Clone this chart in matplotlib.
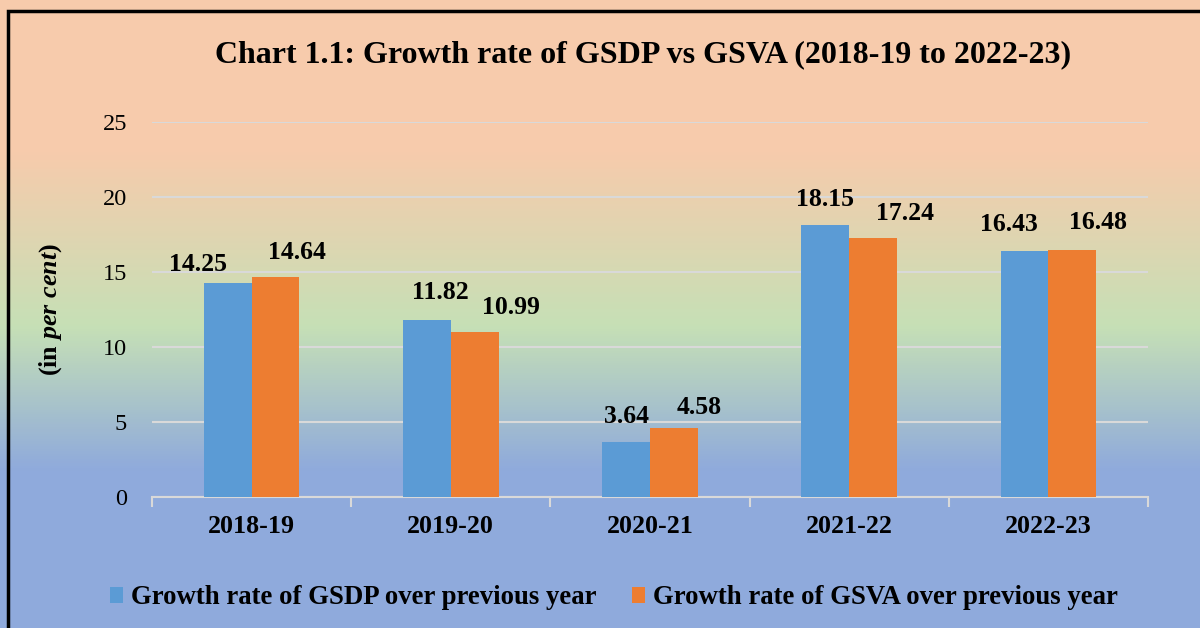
import numpy as np
import matplotlib
matplotlib.use('Agg')
import matplotlib.pyplot as plt
from matplotlib.colors import LinearSegmentedColormap
from matplotlib.patches import Rectangle

years = ['2018-19', '2019-20', '2020-21', '2021-22', '2022-23']
gsdp = [14.25, 11.82, 3.64, 18.15, 16.43]
gsva = [14.64, 10.99, 4.58, 17.24, 16.48]
gsdp_name = 'Growth rate of GSDP over previous year'
gsva_name = 'Growth rate of GSVA over previous year'

# label nudges (pixels) as placed by hand in the original
gsdp_lbl_dx = [-30, 13, 0, 0, -16]
gsdp_lbl_dy = [19, 27, 26, 25, 26]
gsva_lbl_dx = [21, 36, 25, 32, 26]
gsva_lbl_dy = [25, 25, 21, 25, 27]

plt.rcParams['font.family'] = 'Liberation Serif'
plt.rcParams['mathtext.fontset'] = 'custom'
plt.rcParams['mathtext.rm'] = 'Liberation Serif:bold'
plt.rcParams['mathtext.it'] = 'Liberation Serif:bold:italic'

fig = plt.figure(figsize=(12, 6.28), dpi=100)

# background gradient (peach -> green -> blue)
bg = fig.add_axes([0, 0, 1, 1], zorder=0)
cmap = LinearSegmentedColormap.from_list('bg', [
    (0.0, '#F7CBAC'), (0.24, '#F7CBAC'), (0.52, '#C6E0B6'),
    (0.75, '#8FAADC'), (1.0, '#8FAADC')])
grad = np.linspace(0, 1, 628).reshape(-1, 1)
bg.imshow(grad, aspect='auto', cmap=cmap, extent=[0, 1, 0, 1], origin='upper')
bg.axis('off')
fig.patches.append(Rectangle((8/1200, -0.1), 1.2, (628-11)/628 + 0.1,
                             transform=fig.transFigure, fill=False,
                             edgecolor='black', linewidth=2.5, zorder=5))

ax = fig.add_axes([152/1200, 1-497/628, 996/1200, 375/628], zorder=2)
ax.patch.set_alpha(0)
x = np.arange(len(years))
w = 0.24
b1 = ax.bar(x - w/2, gsdp, w, color='#5B9BD5', label=gsdp_name, zorder=3)
b2 = ax.bar(x + w/2, gsva, w, color='#ED7D31', label=gsva_name, zorder=3)
for bars, vals, dxs, dys in ((b1, gsdp, gsdp_lbl_dx, gsdp_lbl_dy),
                             (b2, gsva, gsva_lbl_dx, gsva_lbl_dy)):
    for r, v, dx, dy in zip(bars, vals, dxs, dys):
        ax.annotate(f'{v:.2f}', (r.get_x() + r.get_width()/2, v),
                    xytext=(dx, dy), textcoords='offset pixels',
                    ha='center', va='center', fontsize=18.5, fontweight='bold')

ax.set_xlim(-0.5, len(years) - 0.5)
ax.set_ylim(0, 25)
ax.set_yticks([0, 5, 10, 15, 20, 25])
ax.yaxis.grid(True, color='#D9D9D9', linewidth=1.5, zorder=0)
ax.set_axisbelow(True)
for s in ['top', 'right', 'left']:
    ax.spines[s].set_visible(False)
ax.spines['bottom'].set_color('#D9D9D9')
ax.spines['bottom'].set_linewidth(1.5)
ax.tick_params(axis='y', length=0, labelsize=17.5, pad=18)
ax.set_xticks(x)
ax.set_xticklabels(years, fontsize=18.7, fontweight='bold')
ax.tick_params(axis='x', length=0, pad=13)
ax.set_xticks(np.arange(-0.5, len(years)), minor=True)
ax.tick_params(axis='x', which='minor', length=7, width=1.5, color='#D9D9D9')

ax.set_ylabel(r'$\mathrm{(in\ }\mathit{per\ cent}\mathrm{)}$', fontsize=18.7, labelpad=28)

fig.text(643/1200, 1-55/628, 'Chart 1.1: Growth rate of GSDP vs GSVA (2018-19 to 2022-23)',
         ha='center', va='center', fontsize=23, fontweight='bold')

leg = fig.legend(handles=[b1, b2], loc='center', bbox_to_anchor=(614/1200, 1-598/628),
                 ncol=2, frameon=False, prop={'size': 19.3, 'weight': 'bold'},
                 handlelength=0.5, handleheight=0.5, handletextpad=0.3, columnspacing=1.3)

fig.savefig('out.png', dpi=100)
